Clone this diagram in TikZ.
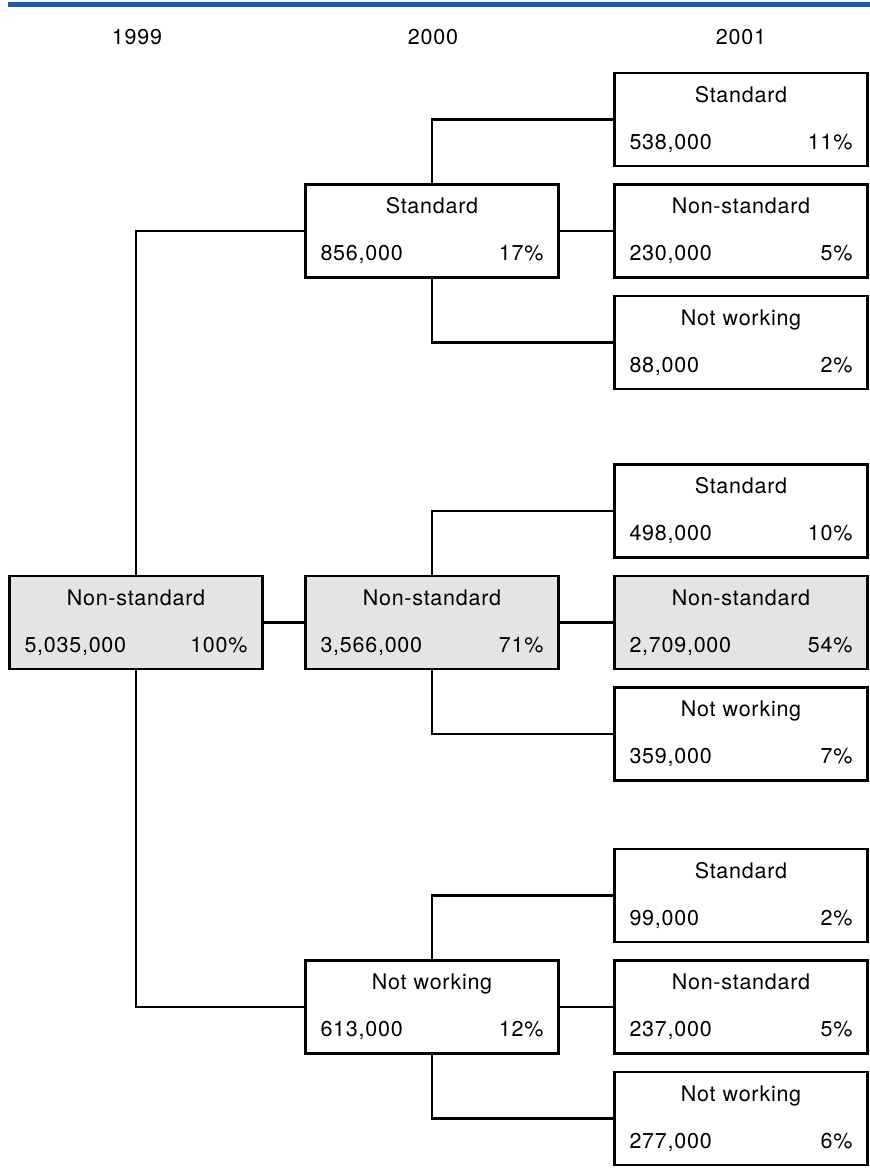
\documentclass[tikz,border=0pt]{standalone}
\usepackage{fontspec}
\setmainfont{TeX Gyre Heros}[LetterSpace=3.5]
\usepackage{tikz}
\usetikzlibrary{positioning}
\definecolor{barblue}{HTML}{1B5DA9}
\definecolor{cellgray}{HTML}{E4E4E4}

\begin{document}
\begin{tikzpicture}[x=1pt, y=-1pt,
    cell/.style={rectangle, draw=black, line width=2.4pt, fill=#1, minimum width=253pt, minimum height=93pt, text width=223pt, align=center, inner sep=0pt, font=\fontsize{21.5}{25}\selectfont},
    cell/.default=white,
    year/.style={font=\fontsize{21.5}{25}\selectfont, anchor=base},
    link/.style={line width=2.4pt, color=black}
]
    \useasboundingbox (0,0) rectangle (870,1173);
    \fill[barblue] (8,1.7) rectangle (870,6.7);

    % Years
    \node[year] (y1999) at (137,44) {1999};
    \node[year] (y2000) at (433,44) {2000};
    \node[year] (y2001) at (741,44) {2001};

    % 1999
    \node[cell=cellgray] (n1999) at (136,622.5) {Non-standard\\[22pt]5,035,000\hfill 100\%};

    % 2000
    \node[cell] (s2000) at (432,231) {Standard\\[22pt]856,000\hfill 17\%};
    \node[cell=cellgray] (n2000) at (432,622.5) {Non-standard\\[22pt]3,566,000\hfill 71\%};
    \node[cell] (w2000) at (432,1007) {Not working\\[22pt]613,000\hfill 12\%};

    % 2001
    \node[cell] (ss2001) at (741,119.5) {Standard\\[22pt]538,000\hfill 11\%};
    \node[cell] (sn2001) at (741,231) {Non-standard\\[22pt]230,000\hfill 5\%};
    \node[cell] (sw2001) at (741,342.5) {Not working\\[22pt]88,000\hfill 2\%};

    \node[cell] (ns2001) at (741,511) {Standard\\[22pt]498,000\hfill 10\%};
    \node[cell=cellgray] (nn2001) at (741,622.5) {Non-standard\\[22pt]2,709,000\hfill 54\%};
    \node[cell] (nw2001) at (741,734) {Not working\\[22pt]359,000\hfill 7\%};

    \node[cell] (ws2001) at (741,895.5) {Standard\\[22pt]99,000\hfill 2\%};
    \node[cell] (wn2001) at (741,1007) {Non-standard\\[22pt]237,000\hfill 5\%};
    \node[cell] (ww2001) at (741,1118.5) {Not working\\[22pt]277,000\hfill 6\%};

    % Links
    \draw[link] (n1999.north) |- (s2000.west);
    \draw[link] (n1999.east) -- (n2000.west);
    \draw[link] (n1999.south) |- (w2000.west);

    \draw[link] (s2000.north) |- (ss2001.west);
    \draw[link] (s2000.east) -- (sn2001.west);
    \draw[link] (s2000.south) |- (sw2001.west);

    \draw[link] (n2000.north) |- (ns2001.west);
    \draw[link] (n2000.east) -- (nn2001.west);
    \draw[link] (n2000.south) |- (nw2001.west);

    \draw[link] (w2000.north) |- (ws2001.west);
    \draw[link] (w2000.east) -- (wn2001.west);
    \draw[link] (w2000.south) |- (ww2001.west);
\end{tikzpicture}
\end{document}
